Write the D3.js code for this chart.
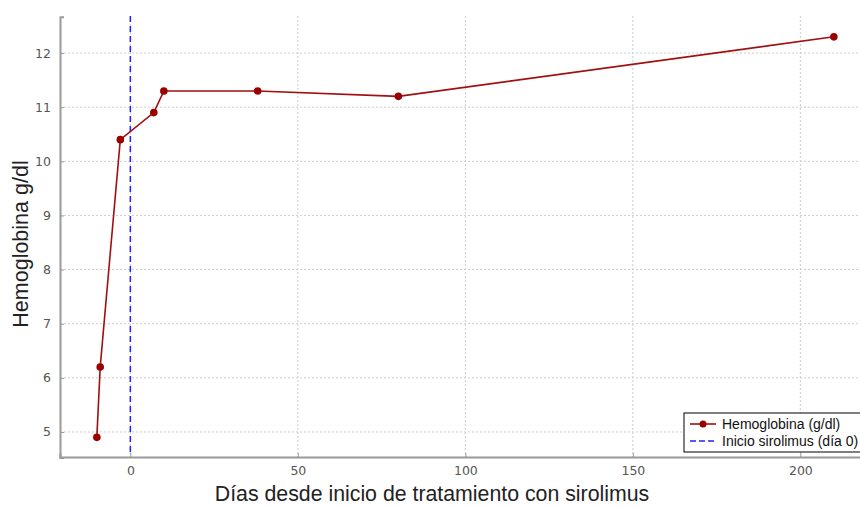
<!DOCTYPE html>
<html><head><meta charset="utf-8">
<script src="https://cdn.jsdelivr.net/npm/d3@7"></script>
<style>body{margin:0;background:#fff}svg{display:block}</style>
</head><body>
<svg id="c" width="860" height="507"></svg>
<script>
const days = [-10, -9, -3, 7, 10, 38, 80, 210];
const hemoglobin = [4.9, 6.2, 10.4, 10.9, 11.3, 11.3, 11.2, 12.3];
const xTicks = [0, 50, 100, 150, 200];
const yTicks = [5, 6, 7, 8, 9, 10, 11, 12];
const startDay = 0;
const seriesLabel = "Hemoglobina (g/dl)";
const startLabel = "Inicio sirolimus (día 0)";
const xLabel = "Días desde inicio de tratamiento con sirolimus";
const yLabel = "Hemoglobina g/dl";

const svg = d3.select("#c");
const x = d3.scaleLinear().domain([-21, 221]).range([60, 60 + 242 * 3.35]);
const y = d3.scaleLinear().domain([4.53, 12.67]).range([457.4, 16.8]);

// grid
const g = svg.append("g");
g.selectAll(".gx").data(xTicks).join("line")
  .attr("x1", d => x(d)).attr("x2", d => x(d)).attr("y1", 16).attr("y2", 457)
  .attr("stroke", "#ccc").attr("stroke-width", 1).attr("stroke-dasharray", "2,2");
g.selectAll(".gy").data(yTicks).join("line")
  .attr("x1", 60).attr("x2", 860).attr("y1", d => y(d)).attr("y2", d => y(d))
  .attr("stroke", "#ccc").attr("stroke-width", 1).attr("stroke-dasharray", "2,2");

// axes
const xa = svg.append("g").attr("transform", "translate(0,457)")
  .call(d3.axisBottom(x).tickValues(xTicks).tickSize(-4).tickPadding(9).tickFormat(d3.format("d")));
const ya = svg.append("g").attr("transform", "translate(60,0)")
  .call(d3.axisLeft(y).tickValues(yTicks).tickSize(-4).tickPadding(9).tickFormat(d3.format("d")));
[xa, ya].forEach(a => {
  a.select(".domain").attr("stroke", "#999").attr("stroke-width", 2);
  a.selectAll(".tick line").attr("stroke", "#999");
  a.selectAll("text").attr("fill", "#555").attr("font-family", "DejaVu Sans").attr("font-size", 12.5);
});

// start line
svg.append("line").attr("x1", x(startDay)).attr("x2", x(startDay)).attr("y1", 16).attr("y2", 456)
  .attr("stroke", "#2222ff").attr("stroke-width", 1.5).attr("stroke-dasharray", "6,4");

// series
const line = d3.line().x((d, i) => x(days[i])).y(d => y(d));
svg.append("path").datum(hemoglobin).attr("d", line)
  .attr("fill", "none").attr("stroke", "#a01010").attr("stroke-width", 1.6);
svg.selectAll(".pt").data(hemoglobin).join("circle")
  .attr("cx", (d, i) => x(days[i])).attr("cy", d => y(d)).attr("r", 3.8).attr("fill", "#9b0000");

// labels
svg.append("text").attr("x", 432).attr("y", 501).attr("text-anchor", "middle")
  .attr("font-family", "Liberation Sans, Arial").attr("font-size", 21.3).attr("fill", "#222").text(xLabel);
svg.append("text").attr("transform", "translate(28,244) rotate(-90)").attr("text-anchor", "middle")
  .attr("font-family", "Liberation Sans, Arial").attr("font-size", 21.5).attr("fill", "#222").text(yLabel);

// legend
const lg = svg.append("g").attr("transform", "translate(684,413)");
lg.append("rect").attr("x", 0).attr("y", 0).attr("width", 190).attr("height", 39)
  .attr("fill", "#fff").attr("stroke", "#000").attr("stroke-width", 1);
lg.append("line").attr("x1", 6).attr("x2", 32).attr("y1", 11).attr("y2", 11).attr("stroke", "#a01010").attr("stroke-width", 1.6);
lg.append("circle").attr("cx", 19).attr("cy", 11).attr("r", 3.5).attr("fill", "#9b0000");
lg.append("line").attr("x1", 6).attr("x2", 32).attr("y1", 28).attr("y2", 28).attr("stroke", "#2222ff").attr("stroke-width", 1.5).attr("stroke-dasharray", "6,3");
lg.append("text").attr("x", 38).attr("y", 16).attr("font-family", "Liberation Sans, Arial").attr("font-size", 14).attr("fill", "#111").text(seriesLabel);
lg.append("text").attr("x", 38).attr("y", 33).attr("font-family", "Liberation Sans, Arial").attr("font-size", 14).attr("fill", "#111").text(startLabel);
</script>
</body></html>
